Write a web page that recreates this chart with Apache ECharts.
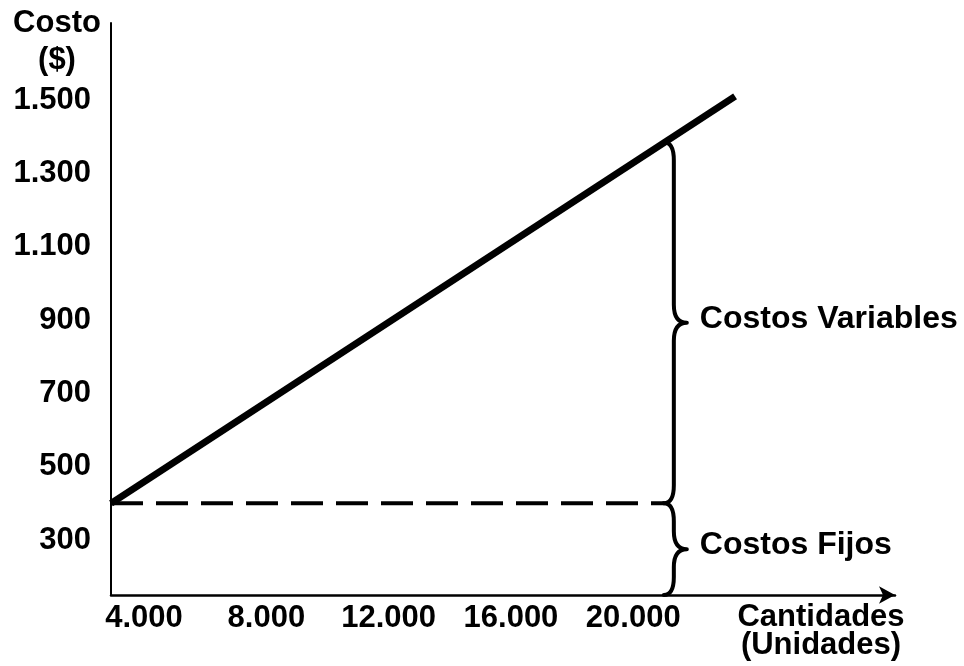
<!DOCTYPE html>
<html>
<head>
<meta charset="utf-8">
<script src="https://cdn.jsdelivr.net/npm/echarts@6/dist/echarts.min.js"></script>
<style>
html,body{margin:0;padding:0;background:#fff;}
#chart{width:964px;height:666px;}
</style>
</head>
<body>
<div id="chart"></div>
<script>
// ---- data ----
var xTicks = [4000, 8000, 12000, 16000, 20000];
var yTicks = [300, 500, 700, 900, 1100, 1300, 1500];
var totalCost = [[2920, 400], [23330, 1510]];
var fixedCost = [[2920, 400], [21000, 400]];
// [x position of brace, lower value, upper value, label]
var braces = [
  [21000, 400, 1385, 'Costos Variables'],
  [21000, 150, 400, 'Costos Fijos']
];
var xRange = [2920, 28560];
var yRange = [150, 1710];
var yName = 'Costo\n($)';
var xName = 'Cantidades\n(Unidades)';

var FONT = "'Liberation Sans', Arial, Helvetica, sans-serif";
function fmt(v) { return String(v).replace(/\B(?=(\d{3})+(?!\d))/g, '.'); }

var chart = echarts.init(document.getElementById('chart'), null, {renderer: 'canvas'});

function renderBrace(params, api) {
  var x = api.value(0), lo = api.value(1), hi = api.value(2);
  var pTop = api.coord([x, hi]);
  var pBot = api.coord([x, lo]);
  var x0 = pTop[0], yt = pTop[1], yb = pBot[1];
  var ym = (yt + yb) / 2;
  var v = x0 + 10, tip = x0 + 23;
  var r = Math.min(18, (yb - yt) / 4);
  var d = 'M' + x0 + ',' + yt +
    ' Q' + v + ',' + yt + ' ' + v + ',' + (yt + r) +
    ' L' + v + ',' + (ym - r) +
    ' Q' + v + ',' + ym + ' ' + tip + ',' + ym +
    ' Q' + v + ',' + ym + ' ' + v + ',' + (ym + r) +
    ' L' + v + ',' + (yb - r) +
    ' Q' + v + ',' + yb + ' ' + x0 + ',' + yb;
  var label = braces[params.dataIndex][3];
  return {
    type: 'group',
    children: [
      {
        type: 'path',
        shape: {pathData: d},
        style: {fill: 'none', stroke: '#000', lineWidth: 4, lineJoin: 'round', lineCap: 'round'}
      },
      {
        type: 'text',
        x: tip + 13,
        y: ym - 4,
        style: {
          text: label,
          fill: '#000',
          font: 'bold 32px ' + FONT,
          textAlign: 'left',
          textVerticalAlign: 'middle'
        }
      }
    ]
  };
}

var option = {
  animation: false,
  backgroundColor: '#fff',
  grid: {left: 111, right: 69, top: 23, bottom: 71, containLabel: false},
  xAxis: {
    type: 'value',
    min: xRange[0],
    max: xRange[1],
    splitLine: {show: false},
    axisTick: {show: false},
    axisLine: {
      show: true,
      onZero: false,
      lineStyle: {color: '#000', width: 2.5},
      symbol: ['none', 'arrow'],
      symbolSize: [13, 16]
    },
    axisLabel: {
      customValues: xTicks,
      formatter: function (v) { return fmt(v); },
      color: '#000',
      fontFamily: FONT,
      fontWeight: 'bold',
      fontSize: 31,
      margin: 8
    }
  },
  yAxis: {
    type: 'value',
    min: yRange[0],
    max: yRange[1],
    splitLine: {show: false},
    axisTick: {show: false},
    axisLine: {show: true, onZero: false, lineStyle: {color: '#000', width: 2}},
    axisLabel: {
      customValues: yTicks,
      formatter: function (v) { return fmt(v); },
      color: '#000',
      fontFamily: FONT,
      fontWeight: 'bold',
      fontSize: 31,
      margin: 20
    }
  },
  graphic: [
    {
      type: 'text',
      x: 57, y: 5,
      style: {
        text: yName, fill: '#000', font: 'bold 31px ' + FONT,
        textAlign: 'center', lineHeight: 37
      }
    },
    {
      type: 'text',
      x: 821, y: 603,
      style: {
        text: xName, fill: '#000', font: 'bold 31px ' + FONT,
        textAlign: 'center', lineHeight: 28
      }
    }
  ],
  series: [
    {
      type: 'line',
      data: fixedCost,
      symbol: 'none',
      lineStyle: {color: '#000', width: 4, type: [32, 13]},
      z: 2
    },
    {
      type: 'line',
      data: totalCost,
      symbol: 'none',
      lineStyle: {color: '#000', width: 7, cap: 'butt'},
      z: 3
    },
    {
      type: 'custom',
      data: braces.map(function (b) { return [b[0], b[1], b[2]]; }),
      renderItem: renderBrace,
      clip: false,
      z: 4
    }
  ]
};
chart.setOption(option);
</script>
</body>
</html>
